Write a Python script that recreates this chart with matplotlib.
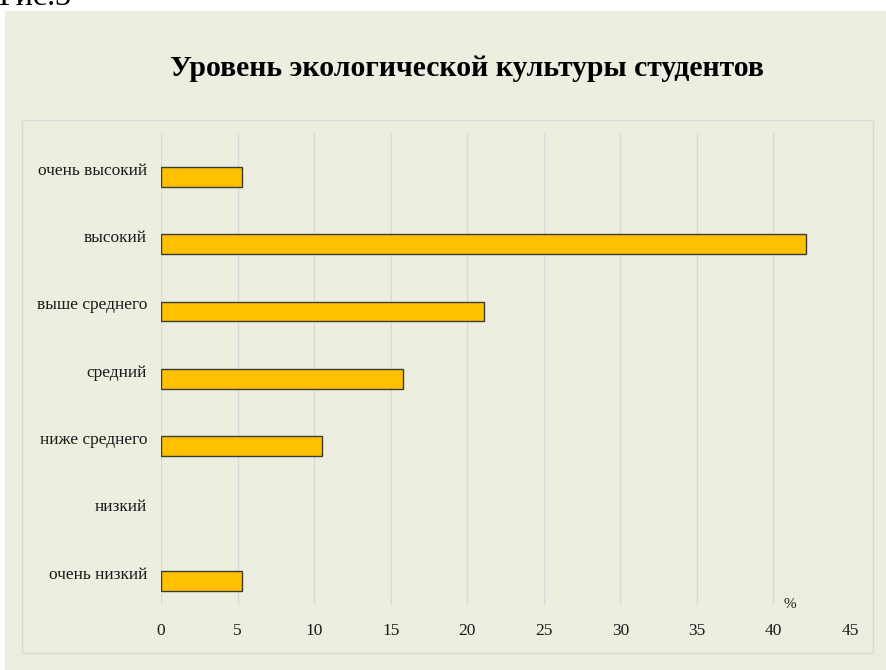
import numpy as np
import matplotlib
matplotlib.use('Agg')
import matplotlib.pyplot as plt
from matplotlib.patches import Rectangle
from matplotlib.transforms import ScaledTranslation

# data (percent of students per level)
levels = ['очень низкий', 'низкий', 'ниже среднего', 'средний',
          'выше среднего', 'высокий', 'очень высокий']
percent = [5.3, 0.0, 10.5, 15.8, 21.1, 42.1, 5.3]
xticks = [0, 5, 10, 15, 20, 25, 30, 35, 40, 45]

bg = '#ECEFDF'
barcolor = '#FFC000'
gridcolor = '#D9D9D9'
W, H = 886, 670

plt.rcParams['font.family'] = ['Liberation Serif', 'DejaVu Serif']

fig = plt.figure(figsize=(W / 100, H / 100), dpi=100)
fig.patch.set_facecolor('white')


def px(x0, y0, x1, y1):
    # pixel box -> figure fraction rect
    return (x0 / W, 1 - y1 / H, (x1 - x0) / W, (y1 - y0) / H)


r = px(5, 11, 886, 670)
fig.patches.append(Rectangle(r[:2], r[2], r[3], transform=fig.transFigure,
                             facecolor=bg, edgecolor='none', zorder=-2))
r = px(22, 120, 873, 653)
fig.patches.append(Rectangle(r[:2], r[2], r[3], transform=fig.transFigure,
                             facecolor=bg, edgecolor=gridcolor, lw=1,
                             zorder=-1))

fig.text(-2 / W, 1 - 5 / H, 'Рис.3', fontsize=23, va='baseline', ha='left')
fig.text(467 / W, 1 - 69 / H, 'Уровень экологической культуры студентов',
         fontsize=21.4, fontweight='bold', ha='center', va='center')

ax = fig.add_axes(px(161, 133, 850, 605))
ax.set_zorder(2)
ax.set_facecolor('none')
y = np.arange(len(levels))
bars = ax.barh(y, percent, height=0.29, color=barcolor, edgecolor='#3a3a3a',
               lw=1, zorder=3)
for b, v in zip(bars, percent):
    if v == 0:
        b.set_linewidth(0)

ax.set_xlim(0, 45)
ax.set_ylim(-0.36, 6.65)
ax.set_xticks(xticks)
ax.set_xticklabels([str(t) for t in xticks], fontsize=12.5)
ax.set_yticks(y)
ax.set_yticklabels(levels, fontsize=12.5)
ax.tick_params(length=0, colors='#1a1a1a')
ax.tick_params(axis='x', pad=13)
ax.tick_params(axis='y', pad=10)
off = ScaledTranslation(0, 8 / 100, fig.dpi_scale_trans)
for lab in ax.get_yticklabels():
    lab.set_transform(lab.get_transform() + off)

ax.grid(axis='x', color=gridcolor, lw=1, zorder=0)
ax.grid(axis='y', visible=False)
for s in ax.spines.values():
    s.set_visible(False)

ax.text(790 / W, 1 - 604 / H, '%', transform=fig.transFigure, fontsize=11,
        ha='center', va='center', color='#1a1a1a')

fig.savefig('out.png', dpi=100, facecolor='white')
